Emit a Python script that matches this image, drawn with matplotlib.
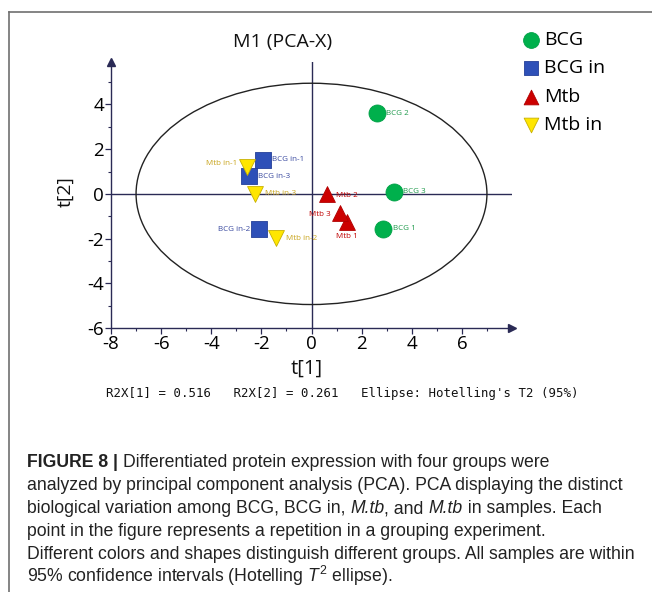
import matplotlib
matplotlib.use("Agg")
import matplotlib.pyplot as plt
from matplotlib.patches import Ellipse
from matplotlib.lines import Line2D
import numpy as np

# ---------------- data ----------------
groups = ["BCG", "BCG in", "Mtb", "Mtb in"]
bcg_labels = ["BCG 1", "BCG 2", "BCG 3"]
bcg_t1 = [2.85, 2.6, 3.3]
bcg_t2 = [-1.55, 3.6, 0.1]

bcgin_labels = ["BCG in-1", "BCG in-2", "BCG in-3"]
bcgin_t1 = [-1.95, -2.1, -2.48]
bcgin_t2 = [1.52, -1.58, 0.8]

mtb_labels = ["Mtb 1", "Mtb 2", "Mtb 3"]
mtb_t1 = [1.41, 0.63, 1.12]
mtb_t2 = [-1.24, 0.0, -0.86]

mtbin_labels = ["Mtb in-1", "Mtb in-2", "Mtb in-3"]
mtbin_t1 = [-2.59, -1.41, -2.24]
mtbin_t2 = [1.22, -1.98, 0.0]

ellipse_a = 7.0    # semi-axis t[1]
ellipse_b = 4.95   # semi-axis t[2]

x_ticks = [-8, -6, -4, -2, 0, 2, 4, 6]
y_ticks = [-6, -4, -2, 0, 2, 4]

footer = "R2X[1] = 0.516   R2X[2] = 0.261   Ellipse: Hotelling's T2 (95%)"

# ---------------- style ----------------
plt.rcParams['mathtext.fontset'] = 'custom'
plt.rcParams['mathtext.rm'] = 'Liberation Sans'
plt.rcParams['mathtext.it'] = 'Liberation Sans:italic'
plt.rcParams['mathtext.bf'] = 'Liberation Sans:bold'

W, H = 652, 592
fig = plt.figure(figsize=(W / 100, H / 100), dpi=100)

axcol = "#2a2a55"
ax = fig.add_axes([111 / W, 1 - 328 / H, (512 - 111) / W, (328 - 62) / H])
ax.set_xlim(-8, 8.0)
ax.set_ylim(-6, 5.9)
for s in ["top", "right"]:
    ax.spines[s].set_visible(False)
for s in ["left", "bottom"]:
    ax.spines[s].set_color(axcol)
    ax.spines[s].set_linewidth(1.0)
ax.plot([1], [0], marker=">", color=axcol, ms=6, transform=ax.transAxes, clip_on=False)
ax.plot([0], [1], marker="^", color=axcol, ms=6, transform=ax.transAxes, clip_on=False)

ax.axhline(0, color=axcol, lw=1.0, zorder=1)
ax.axvline(0, color=axcol, lw=1.0, zorder=1)

ax.add_patch(Ellipse((0, 0), 2 * ellipse_a, 2 * ellipse_b, fill=False,
                     edgecolor="#222222", lw=1.0, zorder=1))

ax.set_xticks(x_ticks)
ax.set_yticks(y_ticks)
ax.set_xticks(np.arange(-7, 8, 2), minor=True)
ax.set_yticks(np.arange(-5, 6, 2), minor=True)
ax.tick_params(which="both", direction="out", color=axcol, labelsize=13.5)
ax.tick_params(which="major", length=4, width=0.9, pad=1)
ax.tick_params(which="minor", length=2.5, width=0.8)
ax.set_xticklabels([str(v) for v in x_ticks], family="Open Sans")
ax.set_yticklabels([str(v) for v in y_ticks], family="Open Sans")

styles = [
    (bcg_t1, bcg_t2, bcg_labels, "o", "#00b04c", "#00a046", "#1f9a4c", 150),
    (bcgin_t1, bcgin_t2, bcgin_labels, "s", "#2e50b8", "#243f99", "#3a4aa0", 125),
    (mtb_t1, mtb_t2, mtb_labels, "^", "#cc0000", "#b00000", "#c00000", 130),
    (mtbin_t1, mtbin_t2, mtbin_labels, "v", "#ffe600", "#c8b000", "#c8a41c", 130),
]
handles = []
for xs, ys, labs, mk, fc, ec, tc, sz in styles:
    h = ax.scatter(xs, ys, marker=mk, s=sz, c=fc, edgecolors=ec, linewidths=0.6, zorder=3)
    handles.append(h)

# label offsets (points) and alignments
offsets = {
    "BCG 1": (7.5, 0, "left", "center"),
    "BCG 2": (6.5, 0, "left", "center"),
    "BCG 3": (6.5, 0, "left", "center"),
    "BCG in-1": (6.8, 0, "left", "center"),
    "BCG in-2": (-6.5, 0, "right", "center"),
    "BCG in-3": (6.5, 0, "left", "center"),
    "Mtb 1": (0, -8, "center", "top"),
    "Mtb 2": (6.5, -1.5, "left", "center"),
    "Mtb 3": (-6, -1, "right", "center"),
    "Mtb in-1": (-7, 2, "right", "center"),
    "Mtb in-2": (6.8, 0, "left", "center"),
    "Mtb in-3": (7, 0, "left", "center"),
}
for xs, ys, labs, mk, fc, ec, tc, sz in styles:
    for x, y, l in zip(xs, ys, labs):
        dx, dy, ha, va = offsets[l]
        ax.annotate(l, (x, y), xytext=(dx, dy), textcoords="offset points",
                    ha=ha, va=va, fontsize=5.8, color=tc, family="Open Sans", zorder=4)

fig.text(283 / W, 1 - 42 / H, "M1 (PCA-X)", ha="center", va="center",
         fontsize=14, family="Open Sans", color="#111111")
fig.text(66 / W, 1 - 192 / H, "t[2]", ha="center", va="center", rotation=90,
         fontsize=14, family="Open Sans", color="#111111")
fig.text(307 / W, 1 - 369 / H, "t[1]", ha="center", va="center",
         fontsize=14.5, family="Open Sans", color="#111111")
fig.text(342 / W, 1 - 394 / H, footer, ha="center", va="center",
         fontsize=8.95, family="DejaVu Sans Mono", color="#111111")

leg = fig.legend(handles, groups, loc="upper left", bbox_to_anchor=(522 / W, 1 - 31 / H),
                 frameon=False, prop={"family": "Open Sans", "size": 14},
                 handlelength=0.9, handletextpad=0.25, labelspacing=0.53,
                 borderaxespad=0, borderpad=0, markerscale=0.93)

# caption: list of lines, each line a list of (text, style) pieces
cap_lines = [
    [("FIGURE 8 | ", "bold"), ("Differentiated protein expression with four groups were", "normal")],
    [("analyzed by principal component analysis (PCA). PCA displaying the distinct", "normal")],
    [("biological variation among BCG, BCG in, ", "normal"), ("M.tb", "italic"),
     (", and ", "normal"), ("M.tb", "italic"), (" in samples. Each", "normal")],
    [("point in the figure represents a repetition in a grouping experiment.", "normal")],
    [("Different colors and shapes distinguish different groups. All samples are within", "normal")],
    [(r"95% confidence intervals (Hotelling $\mathit{T}^{2}$ ellipse).", "normal")],
]
cap_y = [462, 485, 508, 531, 554, 577]
cap_fs = 12.7
renderer = fig.canvas.get_renderer()
for pieces, yy in zip(cap_lines, cap_y):
    xpix = 27.0
    for txt, sty in pieces:
        kw = dict(fontsize=cap_fs, family="Liberation Sans", color="#222222",
                  ha="left", va="baseline")
        if sty == "bold":
            kw["fontweight"] = "bold"
        elif sty == "italic":
            kw["fontstyle"] = "italic"
        t = fig.text(xpix / W, 1 - (yy + 5) / H, txt, **kw)
        xpix += t.get_window_extent(renderer).width

# frame lines
fig.add_artist(Line2D([9 / W, 1], [1 - 12 / H, 1 - 12 / H], color="#707070", lw=1.2,
                      transform=fig.transFigure))
fig.add_artist(Line2D([9 / W, 9 / W], [0, 1 - 12 / H], color="#707070", lw=1.2,
                      transform=fig.transFigure))

fig.savefig("out.png", dpi=100)
